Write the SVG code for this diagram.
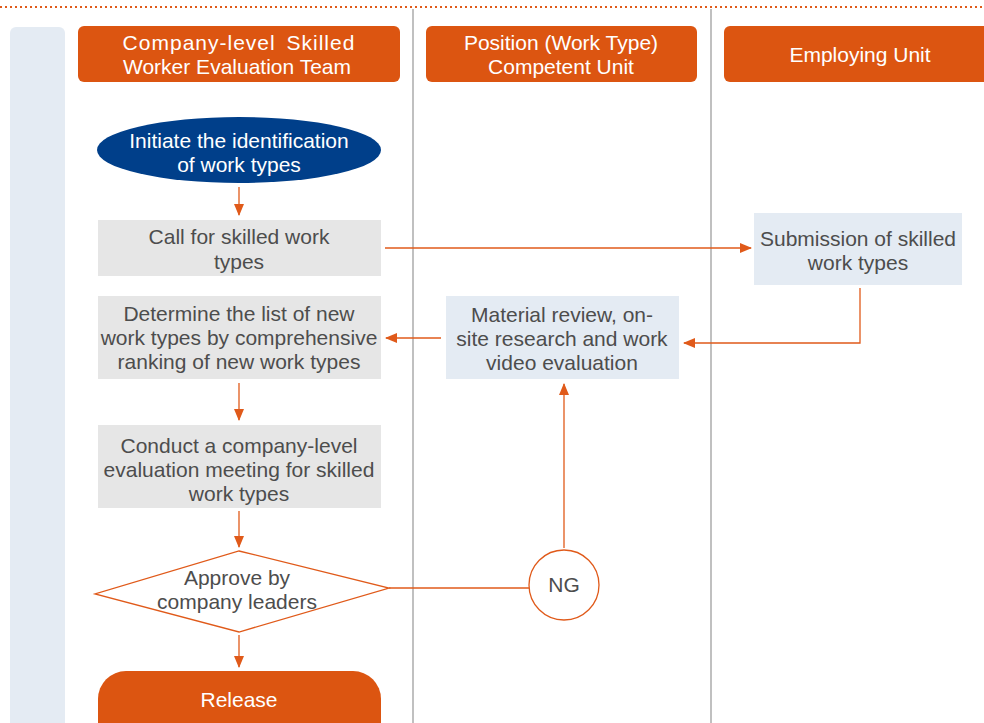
<svg xmlns="http://www.w3.org/2000/svg" width="984" height="723" viewBox="0 0 984 723">
<style>
text{font-family:"Liberation Sans",Arial,sans-serif;font-size:21px;text-anchor:middle}
.hdr{fill:#dc5511}
.ht{fill:#ffffff}
.gray{fill:#e6e6e6}
.blue{fill:#e4ebf3}
.dt{fill:#4d4d4d}
.lane{stroke:#c0c0c0;stroke-width:2;fill:none}
.con{stroke:#e05a1a;stroke-width:1.3;fill:none}
</style>
<defs>
<marker id="ah" markerWidth="12" markerHeight="10" refX="11" refY="5" orient="auto" markerUnits="userSpaceOnUse">
<path d="M0,0 L12,5 L0,10 Z" fill="#e05a1a"/>
</marker>
</defs>
<rect width="984" height="723" fill="#ffffff"/>
<line x1="0" y1="7" x2="984" y2="7" stroke="#e05a1a" stroke-width="2" stroke-dasharray="2,3"/>
<rect x="10" y="27" width="55" height="710" rx="6" fill="#e4ebf3"/>
<line class="lane" x1="413" y1="9" x2="413" y2="723"/>
<line class="lane" x1="711" y1="9" x2="711" y2="723"/>

<g id="header-team">
<rect class="hdr" x="78" y="26" width="322" height="56" rx="6"/>
<text class="ht" x="239" y="50" letter-spacing="1" word-spacing="4">Company-level Skilled</text>
<text class="ht" x="237" y="74">Worker Evaluation Team</text>
</g>
<g id="header-competent">
<rect class="hdr" x="426" y="26" width="271" height="56" rx="6"/>
<text class="ht" x="561" y="50">Position (Work Type)</text>
<text class="ht" x="561" y="74">Competent Unit</text>
</g>
<g id="header-employing">
<rect class="hdr" x="724" y="26" width="280" height="56" rx="6"/>
<text class="ht" x="860" y="62">Employing Unit</text>
</g>

<g id="connectors">
<line class="con" x1="239" y1="187" x2="239" y2="215" marker-end="url(#ah)"/>
<line class="con" x1="385" y1="248" x2="751" y2="248" marker-end="url(#ah)"/>
<polyline class="con" points="860,288 860,343 684,343" marker-end="url(#ah)"/>
<line class="con" x1="441" y1="338" x2="386" y2="338" marker-end="url(#ah)"/>
<line class="con" x1="239" y1="383" x2="239" y2="420" marker-end="url(#ah)"/>
<line class="con" x1="239" y1="511" x2="239" y2="547" marker-end="url(#ah)"/>
<line class="con" x1="389" y1="588" x2="529" y2="588"/>
<line class="con" x1="564" y1="548" x2="564" y2="384" marker-end="url(#ah)"/>
<line class="con" x1="239" y1="635" x2="239" y2="667" marker-end="url(#ah)"/>
</g>

<g id="initiate">
<ellipse cx="239" cy="150" rx="142" ry="33" fill="#003f8a"/>
<text class="ht" x="239" y="148">Initiate the identification</text>
<text class="ht" x="239" y="172">of work types</text>
</g>
<g id="call">
<rect class="gray" x="98" y="220" width="283" height="56"/>
<text class="dt" x="239" y="244">Call for skilled work</text>
<text class="dt" x="239" y="269">types</text>
</g>
<g id="submission">
<rect class="blue" x="754" y="213" width="208" height="72"/>
<text class="dt" x="858" y="246">Submission of skilled</text>
<text class="dt" x="858" y="270">work types</text>
</g>
<g id="material">
<rect class="blue" x="446" y="296" width="233" height="83"/>
<text class="dt" x="562" y="322">Material review, on-</text>
<text class="dt" x="562" y="346">site research and work</text>
<text class="dt" x="562" y="370">video evaluation</text>
</g>
<g id="determine">
<rect class="gray" x="98" y="296" width="283" height="83"/>
<text class="dt" x="239" y="321">Determine the list of new</text>
<text class="dt" x="239" y="345">work types by comprehensive</text>
<text class="dt" x="239" y="369">ranking of new work types</text>
</g>
<g id="conduct">
<rect class="gray" x="98" y="425" width="283" height="83"/>
<text class="dt" x="239" y="453">Conduct a company-level</text>
<text class="dt" x="239" y="477">evaluation meeting for skilled</text>
<text class="dt" x="239" y="501">work types</text>
</g>
<g id="approve">
<polygon points="239,551 389,588 239,632 95,594" fill="#ffffff" stroke="#e05a1a" stroke-width="1.3"/>
<text class="dt" x="237" y="585">Approve by</text>
<text class="dt" x="237" y="609">company leaders</text>
</g>
<g id="ng">
<circle cx="564" cy="585" r="35" fill="#ffffff" stroke="#e05a1a" stroke-width="1.3"/>
<text class="dt" x="564" y="592">NG</text>
</g>
<g id="release">
<rect class="hdr" x="98" y="671" width="283" height="80" rx="28"/>
<text class="ht" x="239" y="707">Release</text>
</g>
</svg>
